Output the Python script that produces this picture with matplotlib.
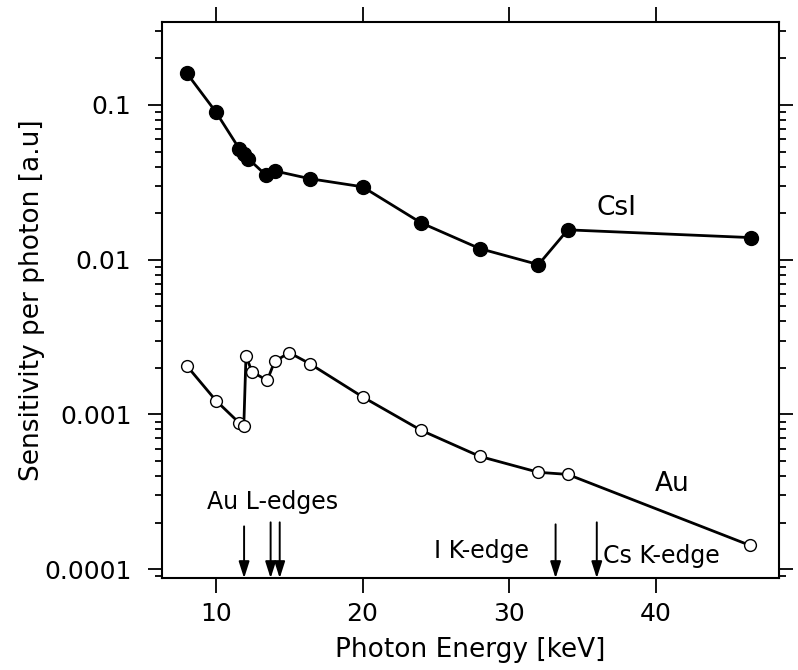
import matplotlib.pyplot as plt
from matplotlib.ticker import LogLocator, NullFormatter, FixedLocator

plt.rcParams['font.family'] = ['DejaVu Sans']

# CsI scintillator: sensitivity per photon vs photon energy (keV)
csi_energy = [8.0, 10.0, 11.6, 11.9, 12.2, 13.4, 14.0, 16.4, 20.0, 24.0, 28.0, 32.0, 34.0, 46.5]
csi_sens = [0.161, 0.090, 0.052, 0.048, 0.045, 0.0353, 0.0375, 0.0334, 0.0296, 0.0173,
            0.0118, 0.0093, 0.0156, 0.0139]

# Au photocathode
au_energy = [8.0, 10.0, 11.6, 11.9, 12.05, 12.45, 13.5, 14.0, 15.0, 16.4, 20.0, 24.0,
             28.0, 32.0, 34.0, 46.4]
au_sens = [0.00207, 0.00123, 0.00088, 0.00084, 0.0024, 0.00189, 0.00166, 0.0022, 0.00251,
           0.00213, 0.0013, 0.00079, 0.000536, 0.000423, 0.00041, 0.000143]

# absorption edges (keV)
au_l_edges = [11.92, 13.73, 14.35]
i_k_edge = 33.17
cs_k_edge = 35.98

fig = plt.figure(figsize=(7.98, 6.70), dpi=100)
ax = fig.add_axes([0.203, 0.137, 0.773, 0.830])

ax.plot(csi_energy, csi_sens, '-', color='black', lw=2.0, marker='o', ms=10,
        mfc='black', mec='black')
ax.plot(au_energy, au_sens, '-', color='black', lw=2.0, marker='o', ms=8.5,
        mfc='white', mec='black', mew=1.0)

ax.set_yscale('log')
ax.set_xlim(6.32, 48.4)
ax.set_ylim(10 ** -4.058, 10 ** -0.4645)

ax.xaxis.set_major_locator(FixedLocator([10, 20, 30, 40]))
ax.yaxis.set_major_locator(FixedLocator([1e-4, 1e-3, 1e-2, 1e-1]))
ax.yaxis.set_minor_locator(LogLocator(base=10, subs=range(2, 10)))
ax.yaxis.set_minor_formatter(NullFormatter())
ax.set_yticklabels(['0.0001', '0.001', '0.01', '0.1'])

ax.tick_params(which='both', direction='out', top=True, right=True, labelsize=18, width=1.3)
ax.tick_params(axis='x', which='major', length=11, pad=6)
ax.tick_params(axis='y', which='major', length=10, pad=12)
ax.tick_params(axis='y', which='minor', length=5)
for s in ax.spines.values():
    s.set_linewidth(1.5)

ax.set_xlabel('Photon Energy [keV]', fontsize=19, labelpad=8)
ax.set_ylabel('Sensitivity per photon [a.u]', fontsize=19, labelpad=-1)

# edge markers: arrows pointing down onto the energy axis
y_tip = 10 ** -4.058
arrow_kw = dict(arrowstyle='-|>,head_length=1.0,head_width=0.32', color='black', lw=1.4,
                shrinkA=0, shrinkB=0)
for e, y0 in zip(au_l_edges, [10 ** -3.723, 10 ** -3.697, 10 ** -3.697]):
    ax.annotate('', xy=(e, y_tip), xytext=(e, y0), arrowprops=arrow_kw)
for e, y0 in zip([i_k_edge, cs_k_edge], [10 ** -3.71, 10 ** -3.697]):
    ax.annotate('', xy=(e, y_tip), xytext=(e, y0), arrowprops=arrow_kw)

ax.text(13.85, 10 ** -3.568, 'Au L-edges', fontsize=17, ha='center', va='center')
ax.text(28.1, 10 ** -3.884, 'I K-edge', fontsize=17, ha='center', va='center')
ax.text(40.4, 10 ** -3.916, 'Cs K-edge', fontsize=17, ha='center', va='center')
ax.text(37.3, 10 ** -1.665, 'CsI', fontsize=19, ha='center', va='center')
ax.text(41.1, 10 ** -3.452, 'Au', fontsize=19, ha='center', va='center')

fig.savefig('out.png', dpi=100)
